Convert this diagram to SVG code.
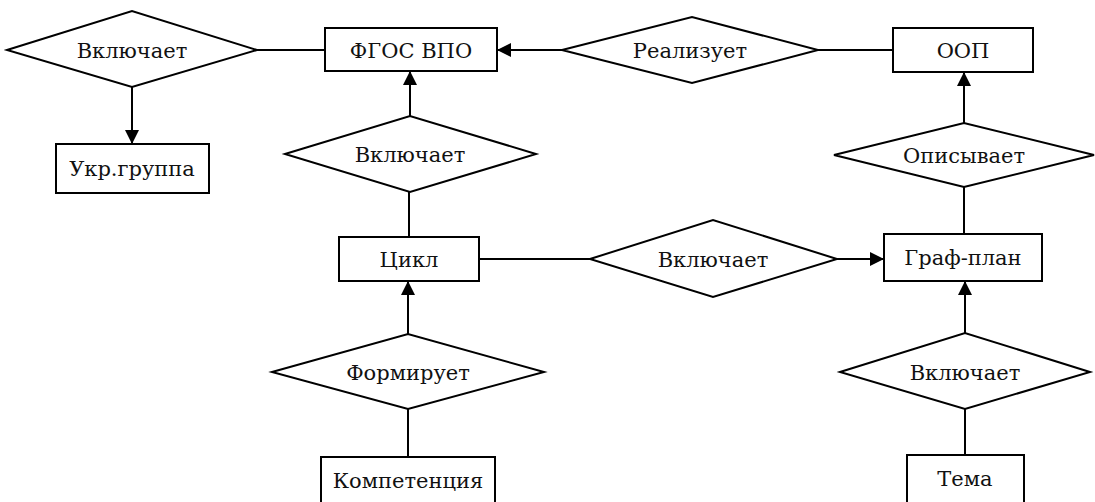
<svg xmlns="http://www.w3.org/2000/svg" width="1095" height="502" viewBox="0 0 1095 502">
<style>
.box{fill:#fff;stroke:#000;stroke-width:2}
.dia{fill:#fff;stroke:#000;stroke-width:2}
.lbl{font-family:'DejaVu Serif',serif;font-size:21px;fill:#111;text-anchor:middle}
.ln{fill:none;stroke:#000;stroke-width:2}
</style>
<defs>
<marker id="arr" markerUnits="userSpaceOnUse" markerWidth="14" markerHeight="14" refX="14" refY="7" orient="auto">
<path d="M0,0 L14,7 L0,14 z" fill="#000"/>
</marker>
</defs>
<rect width="1095" height="502" fill="#fff"/>
<g id="connectors">
<line class="ln" x1="257" y1="50" x2="325" y2="50"/>
<line class="ln" x1="132" y1="87" x2="132" y2="144" marker-end="url(#arr)"/>
<line class="ln" x1="562" y1="50" x2="497" y2="50" marker-end="url(#arr)"/>
<line class="ln" x1="818" y1="50" x2="893" y2="50"/>
<line class="ln" x1="410" y1="116" x2="410" y2="71" marker-end="url(#arr)"/>
<line class="ln" x1="409" y1="192" x2="409" y2="237"/>
<line class="ln" x1="479" y1="259" x2="590" y2="259"/>
<line class="ln" x1="837" y1="259" x2="884" y2="259" marker-end="url(#arr)"/>
<line class="ln" x1="964" y1="123" x2="964" y2="72" marker-end="url(#arr)"/>
<line class="ln" x1="964" y1="187" x2="964" y2="234"/>
<line class="ln" x1="408" y1="334" x2="408" y2="281" marker-end="url(#arr)"/>
<line class="ln" x1="408" y1="409" x2="408" y2="457"/>
<line class="ln" x1="965" y1="333" x2="965" y2="281" marker-end="url(#arr)"/>
<line class="ln" x1="965" y1="409" x2="965" y2="455"/>
</g>
<g id="rel-vkl-ukr">
<polygon class="dia" points="7,50 132,11 257,50 132,87"/>
<text class="lbl" x="132" y="58">Включает</text>
</g>
<g id="fgos">
<rect class="box" x="325" y="28" width="172" height="43"/>
<text class="lbl" x="411" y="58">ФГОС ВПО</text>
</g>
<g id="ukr">
<rect class="box" x="56" y="144" width="153" height="49"/>
<text class="lbl" x="132" y="176">Укр.группа</text>
</g>
<g id="rel-realizuet">
<polygon class="dia" points="562,50 692,17 818,50 692,83"/>
<text class="lbl" x="690" y="58">Реализует</text>
</g>
<g id="oop">
<rect class="box" x="893" y="28" width="140" height="44"/>
<text class="lbl" x="963" y="58">ООП</text>
</g>
<g id="rel-vkl-cikl">
<polygon class="dia" points="285,154 410,116 536,154 410,192"/>
<text class="lbl" x="410" y="162">Включает</text>
</g>
<g id="rel-opisyvaet">
<polygon class="dia" points="834,155 964,123 1094,155 964,187"/>
<text class="lbl" x="964" y="163">Описывает</text>
</g>
<g id="cikl">
<rect class="box" x="339" y="237" width="140" height="44"/>
<text class="lbl" x="409" y="267">Цикл</text>
</g>
<g id="rel-vkl-graf">
<polygon class="dia" points="590,259 713,220 837,259 713,297"/>
<text class="lbl" x="713" y="267">Включает</text>
</g>
<g id="graf">
<rect class="box" x="884" y="234" width="158" height="47"/>
<text class="lbl" x="963" y="265">Граф-план</text>
</g>
<g id="rel-formiruet">
<polygon class="dia" points="272,372 408,334 544,372 408,409"/>
<text class="lbl" x="408" y="380">Формирует</text>
</g>
<g id="rel-vkl-tema">
<polygon class="dia" points="840,372 965,333 1090,372 965,409"/>
<text class="lbl" x="965" y="380">Включает</text>
</g>
<g id="komp">
<rect class="box" x="321" y="457" width="174" height="48"/>
<text class="lbl" x="408" y="488">Компетенция</text>
</g>
<g id="tema">
<rect class="box" x="907" y="455" width="117" height="50"/>
<text class="lbl" x="965" y="486">Тема</text>
</g>
</svg>
